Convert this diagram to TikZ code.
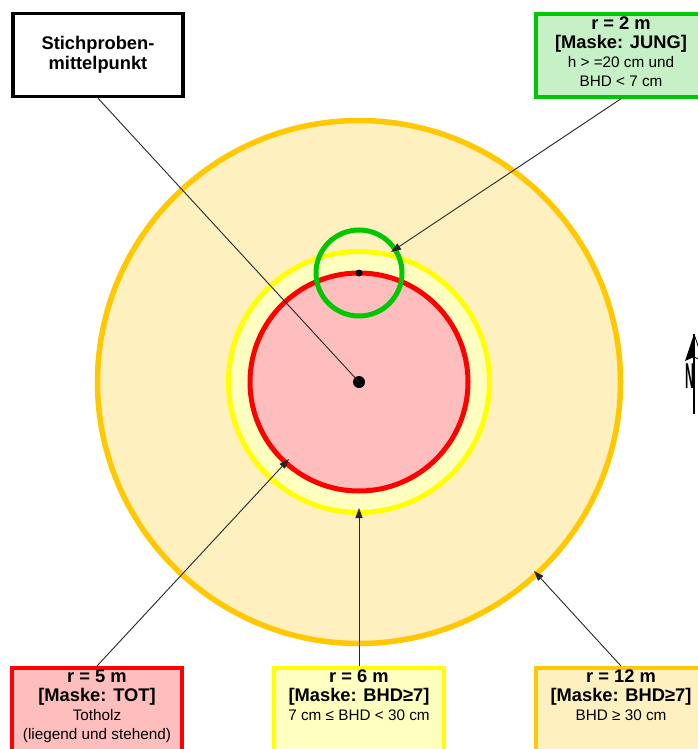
\documentclass[tikz,border=0pt]{standalone}
\usepackage{fontspec}
\setmainfont{Liberation Sans}
\usetikzlibrary{arrows.meta}
\usetikzlibrary{positioning}

\definecolor{ringorange}{RGB}{255,200,0}
\definecolor{fillorange}{RGB}{255,240,192}
\definecolor{ringyellow}{RGB}{255,255,0}
\definecolor{fillyellow}{RGB}{255,255,192}
\definecolor{ringred}{RGB}{255,0,0}
\definecolor{fillred}{RGB}{255,190,190}
\definecolor{ringgreen}{RGB}{0,200,0}
\definecolor{fillgreen}{RGB}{198,240,198}

\newcommand{\headfont}{\fontsize{18.3}{19.5}\selectfont\bfseries}
\newcommand{\bodyfont}{\fontsize{15.3}{18.5}\selectfont}

\tikzset{
  plotbox/.style={draw, line width=3.5pt, minimum width=170pt, minimum height=83pt, inner sep=0pt},
  boxtext/.style={align=center, anchor=north, inner sep=0pt, font=\fontsize{15.3}{18.8}\selectfont},
  pointer/.style={-{Triangle[length=10pt,width=7pt]}, line width=0.9pt, black!85},
}

\begin{document}
\begin{tikzpicture}[x=1pt,y=-1pt]
\useasboundingbox (0,0) rectangle (698,749);
\clip (0,0) rectangle (698,749);

\coordinate (C) at (359,382);
\coordinate (J) at (359,273);
\draw[fill=fillorange,draw=ringorange,line width=5.5pt] (C) circle (261.5);
\draw[fill=fillyellow,draw=ringyellow,line width=5pt] (C) circle (130.5);
\draw[fill=fillred,draw=ringred,line width=5pt] (C) circle (109);
\draw[draw=ringgreen,line width=5pt] (J) circle (43);
\fill (C) circle (6);
\fill (J) circle (3.5);

\node[plotbox, draw=black, fill=white, font=\headfont, align=center] (mitte) at (98,55) {Stichproben-\\mittelpunkt};

\node[plotbox, draw=ringgreen, fill=fillgreen] (jungbox) at (621,55.5) {};
\node[boxtext] (jungtext) at (621,17) {{\headfont r = 2 m}\\{\headfont [Maske: JUNG]}\\{\bodyfont h > =20 cm und}\\{\bodyfont BHD < 7 cm}};

\node[plotbox, draw=ringred, fill=fillred, minimum height=90pt] (totbox) at (97,712.75) {};
\node[boxtext] (tottext) at (97,670) {{\headfont r = 5 m}\\{\headfont [Maske: TOT]}\\{\bodyfont Totholz}\\{\bodyfont (liegend und stehend)}};

\node[plotbox, draw=ringyellow, fill=fillyellow, minimum height=90pt] (bhdbox) at (359,712.75) {};
\node[boxtext] (bhdtext) at (359,670) {{\headfont r = 6 m}\\{\headfont [Maske: BHD≥7]}\\{\bodyfont 7 cm ≤ BHD < 30 cm}};

\node[plotbox, draw=ringorange, fill=fillorange, minimum height=90pt] (starkbox) at (621,712.75) {};
\node[boxtext] (starktext) at (621,670) {{\headfont r = 12 m}\\{\headfont [Maske: BHD≥7]}\\{\bodyfont BHD ≥ 30 cm}};

% pointers
\coordinate (jungtip) at (391,252);
\coordinate (tottip) at (289,459);
\coordinate (bhdtip) at (359,508);
\coordinate (starktip) at (534,571);
\draw[line width=0.9pt, black!85] (mitte.south) -- (C);
\draw[pointer] (jungbox.south) -- (jungtip);
\draw[pointer] (totbox.north) -- (tottip);
\draw[pointer] (bhdbox.north) -- (bhdtip);
\draw[pointer] (starkbox.north) -- (starktip);

% north arrow
\coordinate (nordtip) at (694,334);
\coordinate (nordfuss) at (694,414);
\fill (nordtip) -- (685,361) -- (694,357) -- cycle;
\draw[line width=0.8pt] (nordtip) -- (703,361) -- (694,357);
\draw[line width=2.3pt] (nordtip) -- (nordfuss);
\node[font=\fontsize{36}{36}\selectfont\bfseries, inner sep=0pt] (nordN) at (690.5,376) {\scalebox{0.35}[1]{N}};

\end{tikzpicture}
\end{document}
